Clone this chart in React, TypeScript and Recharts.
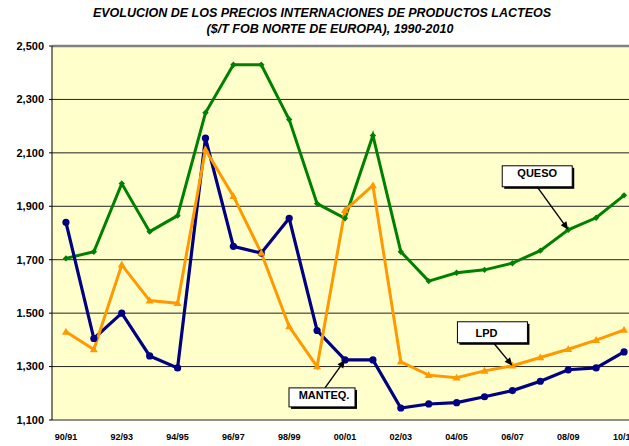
import React from 'react';
import { ComposedChart, Line, XAxis, YAxis, CartesianGrid, ReferenceLine, LabelList } from 'recharts';

const seasons = ['90/91','91/92','92/93','93/94','94/95','95/96','96/97','97/98','98/99','99/00','00/01','01/02','02/03','03/04','04/05','05/06','06/07','07/08','08/09','09/10','10/11'];
const queso = [1705,1730,1985,1805,1865,2250,2430,2430,2225,1910,1855,2165,1730,1620,1651,1662,1687,1734,1812,1857,1941];
const manteq = [1840,1405,1500,1340,1295,2155,1750,1725,1855,1435,1325,1325,1145,1160,1165,1187,1210,1245,1288,1295,1355];
const lpd = [1430,1364,1681,1547,1537,2112,1938,1725,1450,1300,1885,1978,1318,1268,1258,1284,1303,1334,1365,1399,1437];
const yTicks = [1100,1300,1500,1700,1900,2100,2300,2500];
const yTickLabels = ['1,100','1,300','1.500','1,700','1,900','2,100','2,300','2,500'];
const titleLine1 = 'EVOLUCION DE LOS PRECIOS INTERNACIONES DE PRODUCTOS LACTEOS';
const titleLine2 = '($/T FOB NORTE DE EUROPA), 1990-2010';

const data = seasons.map((s, i) => ({ season: s, queso: queso[i], manteq: manteq[i], lpd: lpd[i] }));
const boundaryTicks = Array.from({ length: seasons.length + 1 }, (_, i) => i);

const GREEN = '#008000';
const BLUE = '#000080';
const ORANGE = '#FF9900';
const FONT = 'Arial, "Liberation Sans", sans-serif';

const diamondDot = (p: any) => {
  const { cx, cy, index } = p;
  const r = 3.2;
  return <polygon key={`dq-${index}`} points={`${cx},${cy - r} ${cx + r},${cy} ${cx},${cy + r} ${cx - r},${cy}`} fill={GREEN} />;
};
const circleDot = (p: any) => {
  const { cx, cy, index } = p;
  return <circle key={`dm-${index}`} cx={cx} cy={cy} r={3.6} fill={BLUE} />;
};
const triDot = (p: any) => {
  const { cx, cy, index } = p;
  const r = 4;
  return <polygon key={`dl-${index}`} points={`${cx},${cy - r} ${cx + r},${cy + r * 0.7} ${cx - r},${cy + r * 0.7}`} fill={ORANGE} />;
};

type CalloutCfg = { bx: number; by: number; w: number; h: number; sx: number; sy: number; tx: number; ty: number };

const makeCallout = (targetIndex: number, text: string, c: CalloutCfg) => (props: any) => {
  if (props.index !== targetIndex) return null;
  const x = Number(props.x);
  const y = Number(props.y);
  const sx = x + c.sx;
  const sy = y + c.sy;
  const ang = Math.atan2(y - sy, x - sx);
  const cos = Math.cos(ang);
  const sin = Math.sin(ang);
  const L = 8;
  const W = 3.5;
  const bx = x - L * cos;
  const by = y - L * sin;
  const p1 = `${bx + W * sin},${by - W * cos}`;
  const p2 = `${bx - W * sin},${by + W * cos}`;
  return (
    <g>
      <line x1={sx} y1={sy} x2={bx + cos} y2={by + sin} stroke="#000" strokeWidth={1.4} />
      <polygon points={`${x},${y} ${p1} ${p2}`} fill="#000" />
      <rect x={x + c.bx + 2} y={y + c.by + 2} width={c.w} height={c.h} fill="#000" />
      <rect x={x + c.bx} y={y + c.by} width={c.w} height={c.h} fill="#fff" stroke="#000" strokeWidth={1} />
      <text x={x + c.tx} y={y + c.ty} textAnchor="middle" fontFamily={FONT} fontWeight="bold" fontSize={11} fill="#000">{text}</text>
    </g>
  );
};

const quesoCallout = makeCallout(18, 'QUESO', { bx: -66, by: -64, w: 70, h: 21, sx: -31, sy: -43, tx: -31, ty: -53 });
const lpdCallout = makeCallout(16, 'LPD', { bx: -55, by: -44, w: 70, h: 21, sx: -19, sy: -23, tx: -26, ty: -29 });
const manteqCallout = makeCallout(10, 'MANTEQ.', { bx: -56, by: 28, w: 66, h: 19, sx: -20, sy: 28, tx: -21, ty: 39 });

export default function App() {
  return (
    <div style={{ position: 'absolute', left: 0, top: 0, width: 629, height: 446, overflow: 'hidden', background: '#fff', fontFamily: FONT }}>
      <div style={{ position: 'absolute', left: 322, top: 6, transform: 'translateX(-50%)', whiteSpace: 'nowrap', fontSize: 12.5, fontWeight: 'bold', fontStyle: 'italic', lineHeight: '14px' }}>{titleLine1}</div>
      <div style={{ position: 'absolute', left: 330, top: 22, transform: 'translateX(-50%)', whiteSpace: 'nowrap', fontSize: 12.5, fontWeight: 'bold', fontStyle: 'italic', lineHeight: '14px' }}>{titleLine2}</div>
      <div style={{ position: 'absolute', left: 0, top: 0 }}>
        <ComposedChart width={650} height={446} data={data} margin={{ top: 46, right: 12, bottom: 0, left: 0 }} style={{ fontFamily: FONT }}>
          <CartesianGrid xAxisId="cat" yAxisId="y" vertical={false} stroke="#222" strokeWidth={1} fill="#FFFFCC" fillOpacity={1} />
          <ReferenceLine xAxisId="cat" yAxisId="y" y={2500} stroke="#808080" strokeWidth={2.5} />
          <XAxis xAxisId="ticks" type="number" domain={[0, seasons.length]} ticks={boundaryTicks} allowDataOverflow height={0} tickSize={4} tickFormatter={() => ''} axisLine={{ stroke: '#000', strokeWidth: 1.5 }} tickLine={{ stroke: '#000' }} />
          <XAxis xAxisId="cat" dataKey="season" type="category" scale="band" interval={1} height={26} axisLine={false} tickLine={false} tickSize={0} tickMargin={14} tick={{ fontSize: 9, fontWeight: 'bold', fill: '#000' }} />
          <YAxis yAxisId="y" type="number" domain={[1100, 2500]} ticks={yTicks} interval={0} width={52} tickSize={3} tickMargin={5} axisLine={{ stroke: '#000' }} tickLine={{ stroke: '#000' }} tick={{ fontSize: 11, fontWeight: 'bold', fill: '#000' }} tickFormatter={(v: number) => yTickLabels[yTicks.indexOf(v)]} />
          <Line xAxisId="cat" yAxisId="y" type="linear" dataKey="queso" stroke={GREEN} strokeWidth={3} dot={diamondDot} activeDot={false} isAnimationActive={false}>
            <LabelList dataKey="queso" content={quesoCallout} />
          </Line>
          <Line xAxisId="cat" yAxisId="y" type="linear" dataKey="manteq" stroke={BLUE} strokeWidth={3.2} dot={circleDot} activeDot={false} isAnimationActive={false}>
            <LabelList dataKey="manteq" content={manteqCallout} />
          </Line>
          <Line xAxisId="cat" yAxisId="y" type="linear" dataKey="lpd" stroke={ORANGE} strokeWidth={3} dot={triDot} activeDot={false} isAnimationActive={false}>
            <LabelList dataKey="lpd" content={lpdCallout} />
          </Line>
        </ComposedChart>
      </div>
    </div>
  );
}
